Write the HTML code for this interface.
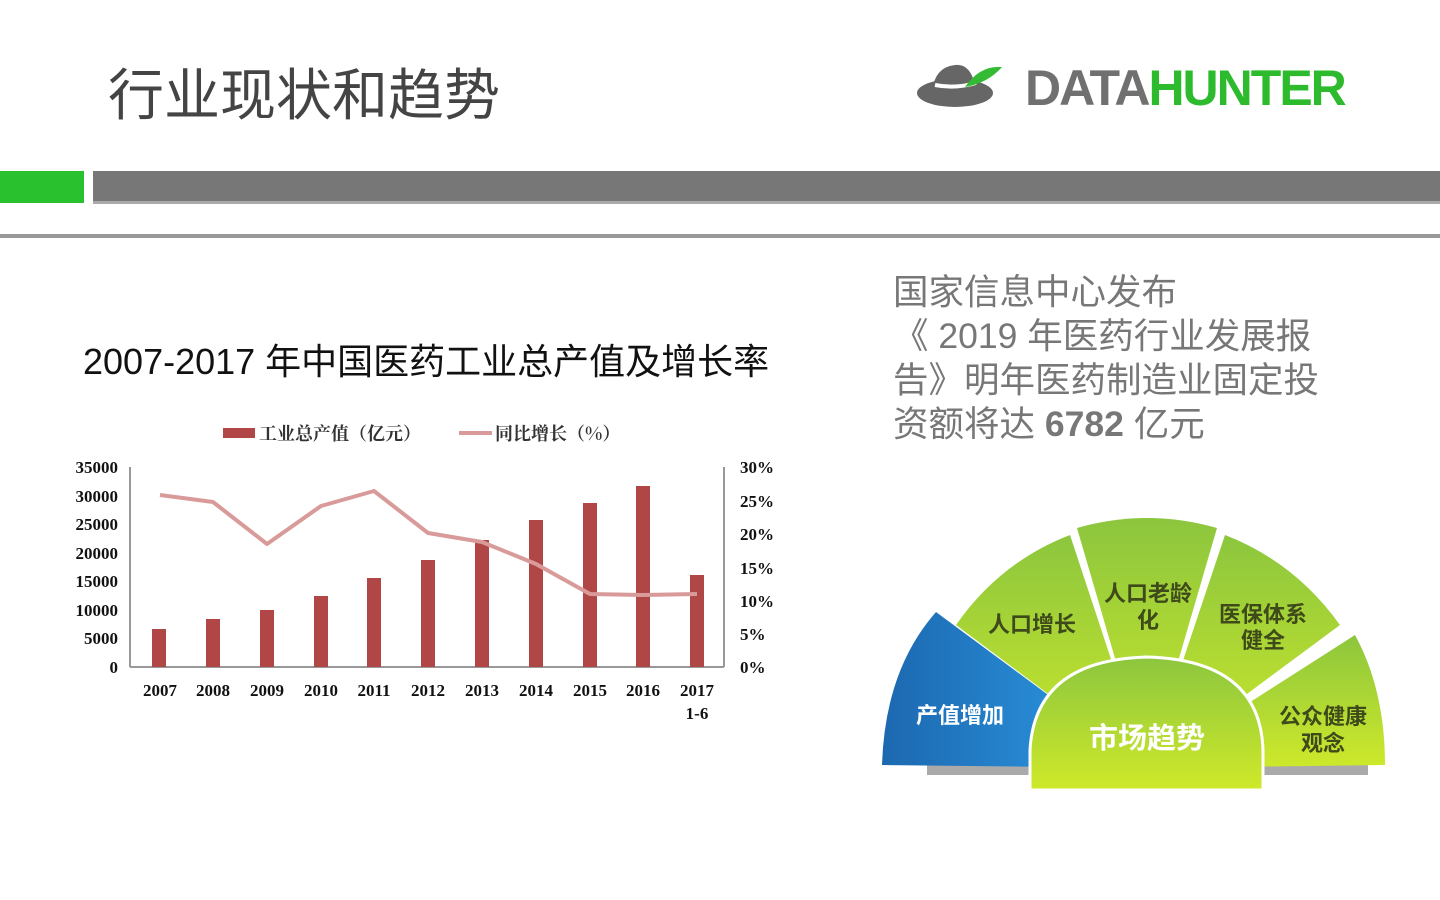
<!DOCTYPE html>
<html><head><meta charset="utf-8"><style>
body{margin:0;width:1440px;height:900px;background:#fff;position:relative;overflow:hidden;font-family:"Liberation Sans","Noto Sans CJK SC",sans-serif}
.a{position:absolute;white-space:nowrap}
</style></head><body>
<div class="a" style="left:108px;top:51px;font-size:56px;color:#444">行业现状和趋势</div>
<svg class="a" style="left:910px;top:55px" width="460" height="70">
<ellipse cx="45" cy="38" rx="38" ry="14" fill="#666"/>
<path d="M22 36 Q25 12 45 10 Q60 8 65 30 Z" fill="#666"/>
<path d="M25 30 Q45 34 66 28" stroke="#fff" stroke-width="4" fill="none"/>
<path d="M55 32 Q70 10 92 12 Q78 28 55 32Z" fill="#33bb33"/>
<text x="115" y="50" font-family="Liberation Sans" font-weight="bold" font-size="50" fill="#707070" letter-spacing="-2">DATA<tspan fill="#2dbb2d">HUNTER</tspan></text>
</svg>
<div class="a" style="left:0;top:171px;width:84px;height:32px;background:#29c12e"></div>
<div class="a" style="left:93px;top:171px;width:1347px;height:30px;background:#777;border-bottom:3px solid #aaa"></div>
<div class="a" style="left:0;top:234px;width:1440px;height:4px;background:#999"></div>
<div class="a" style="left:83px;top:333px;font-size:36px;color:#111">2007-2017 年中国医药工业总产值及增长率</div>
<svg class="a" style="left:0;top:0" width="800" height="740" font-family="Liberation Serif" font-weight="bold" font-size="17">
<rect x="223" y="428" width="32" height="10" fill="#b04646"/>
<text x="259" y="440" font-family="Noto Serif CJK SC" font-size="18" fill="#333">工业总产值（亿元）</text>
<line x1="459" y1="433" x2="492" y2="433" stroke="#d99a9a" stroke-width="4"/>
<text x="495" y="440" font-family="Noto Serif CJK SC" font-size="18" fill="#333">同比增长（%）</text>
<g stroke="#999" stroke-width="2"><line x1="130" y1="467" x2="130" y2="667"/><line x1="130" y1="667" x2="724" y2="667"/><line x1="724" y1="467" x2="724" y2="667"/></g>
<g fill="#111" text-anchor="end">
<text x="118" y="473">35000</text><text x="118" y="502">30000</text><text x="118" y="530">25000</text><text x="118" y="559">20000</text><text x="118" y="587">15000</text><text x="118" y="616">10000</text><text x="118" y="644">5000</text><text x="118" y="673">0</text></g>
<g fill="#111"><text x="740" y="473">30%</text><text x="740" y="507">25%</text><text x="740" y="540">20%</text><text x="740" y="574">15%</text><text x="740" y="607">10%</text><text x="740" y="640">5%</text><text x="740" y="673">0%</text></g>
<g fill="#b04646">
<rect x="152" y="629" width="14" height="38"/><rect x="206" y="619" width="14" height="48"/><rect x="260" y="610" width="14" height="57"/><rect x="314" y="596" width="14" height="71"/><rect x="367" y="578" width="14" height="89"/><rect x="421" y="560" width="14" height="107"/><rect x="475" y="540" width="14" height="127"/><rect x="529" y="520" width="14" height="147"/><rect x="583" y="503" width="14" height="164"/><rect x="636" y="486" width="14" height="181"/><rect x="690" y="575" width="14" height="92"/></g>
<polyline fill="none" stroke="#d99a9a" stroke-width="4" stroke-linejoin="round" points="160,495 213,502 267,544 321,506 374,491 428,533 482,542 536,564 590,594 643,595 697,594"/>
<g fill="#111" text-anchor="middle"><text x="160" y="696">2007</text><text x="213" y="696">2008</text><text x="267" y="696">2009</text><text x="321" y="696">2010</text><text x="374" y="696">2011</text><text x="428" y="696">2012</text><text x="482" y="696">2013</text><text x="536" y="696">2014</text><text x="590" y="696">2015</text><text x="643" y="696">2016</text><text x="697" y="696">2017</text><text x="697" y="719">1-6</text></g>
</svg>
<div class="a" style="left:893px;top:270px;font-size:35.5px;line-height:44px;color:#777;white-space:normal;width:460px">国家信息中心发布<br>《 2019 年医药行业发展报<br>告》明年医药制造业固定投<br>资额将达 <b>6782</b> 亿元</div>
<svg class="a" style="left:870px;top:500px" width="530" height="300" font-family="Noto Sans CJK SC" font-weight="bold">
<defs><linearGradient id="b" x1="0" x2="1"><stop offset="0" stop-color="#1c68b0"/><stop offset="1" stop-color="#2ea0ea"/></linearGradient>
<linearGradient id="g" x1="0" y1="0" x2="0" y2="1"><stop offset="0" stop-color="#8cc63e"/><stop offset="1" stop-color="#cfe92a"/></linearGradient></defs>
<rect x="57" y="265" width="441" height="10" fill="#aaa"/>
<path d="M277 268 L12 265 Q15 170 66 112 Z" fill="url(#b)"/>
<path d="M277 268 L86 125 Q130 62 200 35 Z" fill="url(#g)"/>
<path d="M277 268 L207 28 Q277 8 347 28 Z" fill="url(#g)"/>
<path d="M277 268 L355 35 Q425 62 470 125 Z" fill="url(#g)"/>
<path d="M277 268 L485 135 Q515 190 515 265 Z" fill="url(#g)"/>
<path d="M160 290 L160 250 Q165 160 277 157 Q390 160 393 250 L393 290 Z" fill="url(#g)" stroke="#fff" stroke-width="3"/>
<g font-size="22" fill="#3e4a1a" text-anchor="middle">
<text x="162" y="132">人口增长</text><text x="278" y="101">人口老龄</text><text x="278" y="128">化</text>
<text x="393" y="122">医保体系</text><text x="393" y="148">健全</text>
<text x="453" y="224">公众健康</text><text x="453" y="251">观念</text>
<text x="90" y="223" fill="#fff">产值增加</text>
<text x="277" y="248" font-size="29" fill="#fff">市场趋势</text></g>
</svg>
</body></html>
